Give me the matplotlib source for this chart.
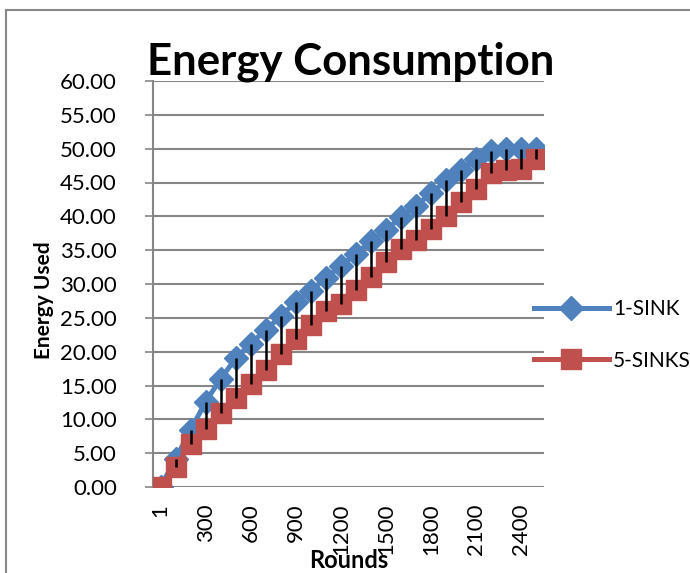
import matplotlib
matplotlib.use("Agg")
import matplotlib.pyplot as plt
from matplotlib.lines import Line2D

plt.rcParams['font.family'] = ['Lato', 'DejaVu Sans']

rounds = [1, 100, 200, 300, 400, 500, 600, 700, 800, 900, 1000, 1100, 1200,
          1300, 1400, 1500, 1600, 1700, 1800, 1900, 2000, 2100, 2200, 2300, 2400, 2500]
one_sink = [0.0, 4.2, 8.4, 12.6, 16.0, 19.0, 21.2, 23.2, 25.3, 27.3, 29.0, 30.9, 32.7,
            34.5, 36.3, 38.0, 39.9, 41.6, 43.4, 45.3, 46.9, 48.4, 49.7, 50.0, 49.9, 50.0]
five_sinks = [0.0, 3.0, 6.4, 8.6, 10.9, 13.1, 15.2, 17.3, 19.7, 21.9, 23.9, 26.0, 27.1,
              29.1, 31.1, 33.2, 35.2, 36.5, 38.2, 40.1, 42.1, 44.1, 46.4, 46.8, 47.0, 48.4]
series_names = ['1-SINK', '5-SINKS']
y_ticks = [0, 5, 10, 15, 20, 25, 30, 35, 40, 45, 50, 55, 60]

W, H = 690, 573
fig = plt.figure(figsize=(W / 100, H / 100), dpi=100)

left, right, top, bottom = 153, 544, 81, 487
ax = fig.add_axes([left / W, 1 - bottom / H, (right - left) / W, (bottom - top) / H])

blue = '#4F81BD'
red = '#C0504D'
grid = '#868686'

x = list(range(len(rounds)))
ax.plot(x, one_sink, color=blue, lw=3.6, marker='D', markersize=12,
        markerfacecolor=blue, markeredgecolor=blue, label=series_names[0], zorder=3)
ax.plot(x, five_sinks, color=red, lw=3.6, marker='s', markersize=15,
        markerfacecolor=red, markeredgecolor=red, label=series_names[1], zorder=4)
ax.vlines(x, five_sinks, one_sink, color='black', lw=1.8, zorder=5)

ax.set_xlim(-0.5, len(rounds) - 0.5)
ax.set_ylim(0, 60)
ax.set_yticks(y_ticks)
ax.set_yticklabels([f'{v:.2f}' for v in y_ticks], fontsize=16)
ax.yaxis.grid(True, color=grid, lw=1.5)
ax.set_axisbelow(True)

xt = x[::3]
ax.set_xticks(xt)
ax.set_xticklabels([str(rounds[i]) for i in xt], rotation=90, fontsize=16, va='top')
ax.tick_params(axis='x', length=0, pad=12)
ax.tick_params(axis='y', length=6, width=1.2, color=grid, direction='out', pad=20)

for s in ['top', 'right', 'bottom']:
    ax.spines[s].set_visible(False)
ax.spines['left'].set_color(grid)
ax.spines['left'].set_linewidth(1.5)

fig.text(351 / W, 1 - 62 / H, 'Energy Consumption', fontsize=31.5, fontweight='bold',
         ha='center', va='center')
fig.text(44 / W, 1 - 300 / H, 'Energy Used', fontsize=15, fontweight='bold',
         rotation=90, ha='center', va='center')
fig.text(349 / W, 1 - 560 / H, 'Rounds', fontsize=17, fontweight='bold',
         ha='center', va='center')

leg = ax.legend(loc='center left', bbox_to_anchor=(515 / W, 1 - 335 / H),
                bbox_transform=fig.transFigure, frameon=False, fontsize=15,
                handlelength=3.6, labelspacing=1.5, handletextpad=0.2)

# outer chart frame (top and left edges visible)
fig.add_artist(Line2D([6 / W, 1.0], [1 - 10 / H, 1 - 10 / H], color='#888888', lw=1.5,
                      transform=fig.transFigure))
fig.add_artist(Line2D([6 / W, 6 / W], [0, 1 - 10 / H], color='#888888', lw=1.5,
                      transform=fig.transFigure))

fig.savefig('out.png', dpi=100)
